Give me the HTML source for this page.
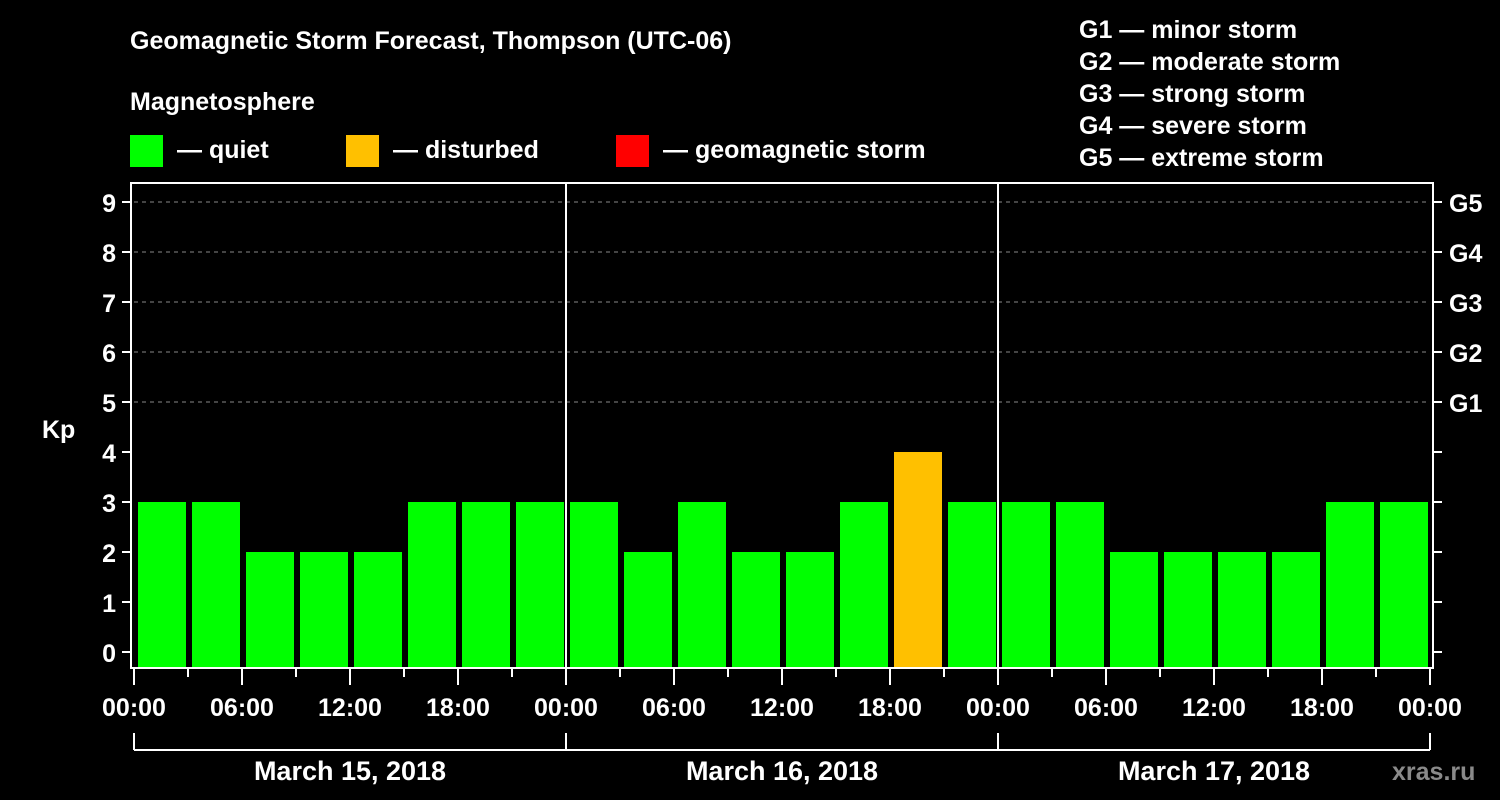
<!DOCTYPE html>
<html><head><meta charset="utf-8"><style>
html,body{margin:0;padding:0;background:#000;width:1500px;height:800px;overflow:hidden}
svg text{font-family:"Liberation Sans",Arial,sans-serif;font-weight:bold;fill:#fff}
</style></head><body>
<svg id="chart" width="1500" height="800">
<text x="130" y="49" font-size="25">Geomagnetic Storm Forecast, Thompson (UTC-06)</text>
<text x="130" y="110" font-size="25">Magnetosphere</text>
<g><rect x="130" y="135" width="33" height="32" fill="#00ff00"/><text x="177" y="158" font-size="25">— quiet</text></g>
<g><rect x="346" y="135" width="33" height="32" fill="#ffc000"/><text x="393" y="158" font-size="25">— disturbed</text></g>
<g><rect x="616" y="135" width="33" height="32" fill="#ff0000"/><text x="663" y="158" font-size="25">— geomagnetic storm</text></g>
<g font-size="25">
<text x="1079" y="38">G1 — minor storm</text>
<text x="1079" y="70">G2 — moderate storm</text>
<text x="1079" y="102">G3 — strong storm</text>
<text x="1079" y="134">G4 — severe storm</text>
<text x="1079" y="166">G5 — extreme storm</text>
</g>
<text x="42" y="438" font-size="25">Kp</text>
<g id="grid"></g><g id="bars"></g><g id="axes"></g>
<text x="1392" y="780" font-size="25" fill="#888" style="fill:#8a8a8a">xras.ru</text>
</svg>
<script>
const kpValues=[3,3,2,2,2,3,3,3, 3,2,3,2,2,3,4,3, 3,3,2,2,2,2,3,3];
const yTicks=[0,1,2,3,4,5,6,7,8,9];
const gLabels=["G1","G2","G3","G4","G5"];
const gLevels=[5,6,7,8,9];
const xTickLabels=["00:00","06:00","12:00","18:00","00:00","06:00","12:00","18:00","00:00","06:00","12:00","18:00","00:00"];
const dayLabels=["March 15, 2018","March 16, 2018","March 17, 2018"];
const NS="http://www.w3.org/2000/svg";
const X0=134,X1=1430,YT=183,YB=668;
const slot=(X1-X0)/kpValues.length;
function y(v){return 652-v*50;}
function x(i){return X0+i*slot;}
function mk(tag,attrs,parent){const e=document.createElementNS(NS,tag);for(const k in attrs)e.setAttribute(k,attrs[k]);parent.appendChild(e);return e;}
const grid=document.getElementById('grid'),bars=document.getElementById('bars'),axes=document.getElementById('axes');
gLevels.forEach((v,i)=>{
 const l=mk('line',{x1:X0,x2:X1,y1:y(v),y2:y(v),stroke:'#888','stroke-dasharray':'4,4','stroke-width':1},grid);
 
 
 const t=mk('text',{x:1449,y:y(v)+10,'font-size':25},axes);t.textContent=gLabels[i];
 
 
});
kpValues.forEach((v,i)=>{
 const c=v>=5?'#ff0000':(v>=4?'#ffc000':'#00ff00');
 const r=mk('rect',{x:x(i)+4,y:y(v),width:slot-6,height:YB-y(v),fill:c},bars);
 
 
});
[1,2].forEach(d=>{const l=mk('line',{x1:x(d*8),x2:x(d*8),y1:YT,y2:YB,stroke:'#fff','stroke-width':2},axes);
 
 });
const f=mk('rect',{x:131,y:YT,width:1433-131,height:YB-YT,fill:'none',stroke:'#fff','stroke-width':2},axes);


yTicks.forEach(v=>{
 mk('line',{x1:122,x2:131,y1:y(v),y2:y(v),stroke:'#fff','stroke-width':2},axes);
 mk('line',{x1:1433,x2:1442,y1:y(v),y2:y(v),stroke:'#fff','stroke-width':2},axes);
 const t=mk('text',{x:116,y:y(v)+10,'font-size':25,'text-anchor':'end'},axes);t.textContent=v;
 
 
});
for(let i=0;i<=kpValues.length;i++){
 const major=i%2===0;
 mk('line',{x1:x(i),x2:x(i),y1:YB,y2:major?685:677,stroke:'#fff','stroke-width':2},axes);
 if(major){const t=mk('text',{x:x(i),y:716,'font-size':25,'text-anchor':'middle'},axes);t.textContent=xTickLabels[i/2];
 
 }
}
mk('line',{x1:X0,x2:X1,y1:750,y2:750,stroke:'#fff','stroke-width':2},axes);
for(let d=0;d<=3;d++)mk('line',{x1:x(d*8),x2:x(d*8),y1:733,y2:750,stroke:'#fff','stroke-width':2},axes);
dayLabels.forEach((s,d)=>{const t=mk('text',{x:x(d*8+4),y:780,'font-size':27,'text-anchor':'middle'},axes);t.textContent=s;
 
 });
</script>
</body></html>
